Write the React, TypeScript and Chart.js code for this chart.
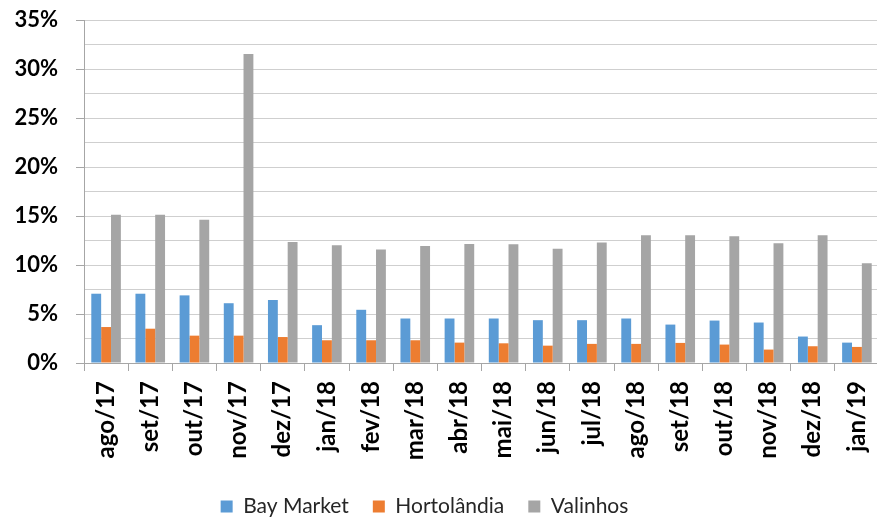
import React, { useEffect, useRef } from "react";
import { Chart, registerables } from "chart.js";

Chart.register(...registerables);

const categories = [
  "ago/17", "set/17", "out/17", "nov/17", "dez/17", "jan/18", "fev/18", "mar/18", "abr/18",
  "mai/18", "jun/18", "jul/18", "ago/18", "set/18", "out/18", "nov/18", "dez/18", "jan/19",
];
const bayMarket = [7.07, 7.07, 6.9, 6.1, 6.43, 3.86, 5.43, 4.54, 4.54, 4.54, 4.37, 4.37, 4.54, 3.92, 4.33, 4.13, 2.7, 2.08];
const hortolandia = [3.67, 3.5, 2.79, 2.79, 2.65, 2.32, 2.32, 2.32, 2.08, 2.01, 1.77, 1.95, 1.95, 2.05, 1.88, 1.37, 1.71, 1.64];
const valinhos = [15.14, 15.14, 14.63, 31.53, 12.35, 12.01, 11.57, 11.95, 12.15, 12.12, 11.67, 12.3, 13.04, 13.04, 12.94, 12.22, 13.04, 10.17];
const seriesNames = ["Bay Market", "Hortolândia", "Valinhos"];
const seriesColors = ["#5B9BD5", "#ED7D31", "#A5A5A5"];

const legendShift = {
  id: "legendShift",
  afterLayout(chart: any) {
    if (chart.legend) {
      chart.legend.left -= 15;
      chart.legend.right -= 15;
    }
  },
};

export default function App() {
  const ref = useRef<HTMLCanvasElement | null>(null);
  useEffect(() => {
    if (!ref.current) return;
    const axisGray = "#A6A6A6";
    const chart = new Chart(ref.current, {
      type: "bar",
      data: {
        labels: categories,
        datasets: [bayMarket, hortolandia, valinhos].map((d, i) => ({
          label: seriesNames[i],
          data: d,
          backgroundColor: seriesColors[i],
          borderWidth: 0,
          categoryPercentage: 0.67,
          barPercentage: 1.0,
        })),
      },
      plugins: [legendShift],
      options: {
        responsive: false,
        animation: false,
        layout: { padding: { top: 20, left: 0, right: 1, bottom: -10 } },
        plugins: {
          tooltip: { enabled: false },
          legend: {
            position: "bottom",
            align: "center",
            labels: {
              boxWidth: 12,
              boxHeight: 12,
              padding: 24,
              color: "#262626",
              font: { family: "Lato", size: 21 },
            },
          },
        },
        scales: {
          x: {
            offset: true,
            grid: {
              offset: true,
              drawOnChartArea: false,
              drawTicks: true,
              tickLength: 8,
              color: axisGray,
            },
            border: { display: true, color: axisGray, width: 1 },
            ticks: {
              minRotation: 90,
              maxRotation: 90,
              padding: 10,
              color: "#000",
              font: { family: "Lato", size: 24, weight: "bold" },
            },
            afterFit: (s: any) => {
              s.height = 109;
              s.paddingLeft = 0;
              s.paddingRight = 0;
              s.paddingTop = 0;
              s.paddingBottom = 0;
            },
          },
          y: {
            min: 0,
            max: 35,
            grid: {
              color: "#CFCFCF",
              lineWidth: 1,
              drawTicks: true,
              tickLength: 8,
              tickColor: (ctx: any) =>
                ctx.tick && Math.abs(ctx.tick.value % 5) < 1e-6 ? axisGray : "rgba(0,0,0,0)",
            },
            border: { display: true, color: axisGray, width: 1 },
            ticks: {
              stepSize: 2.5,
              autoSkip: false,
              padding: 18,
              color: "#000",
              font: { family: "Lato", size: 22, weight: "bold" },
              callback: (v: any) => (Math.abs(Number(v) % 5) < 1e-6 ? `${v}%` : ""),
            },
            afterFit: (s: any) => {
              s.width = 84;
              s.paddingTop = 0;
              s.paddingBottom = 0;
              s.paddingLeft = 0;
              s.paddingRight = 0;
            },
          },
        },
      },
    });
    return () => chart.destroy();
  }, []);
  return (
    <div
      style={{
        position: "fixed",
        left: 0,
        top: 0,
        width: 877,
        height: 517,
        overflow: "hidden",
        background: "#fff",
      }}
    >
      <canvas ref={ref} width={880} height={517} style={{ display: "block", width: 880, height: 517 }} />
    </div>
  );
}
